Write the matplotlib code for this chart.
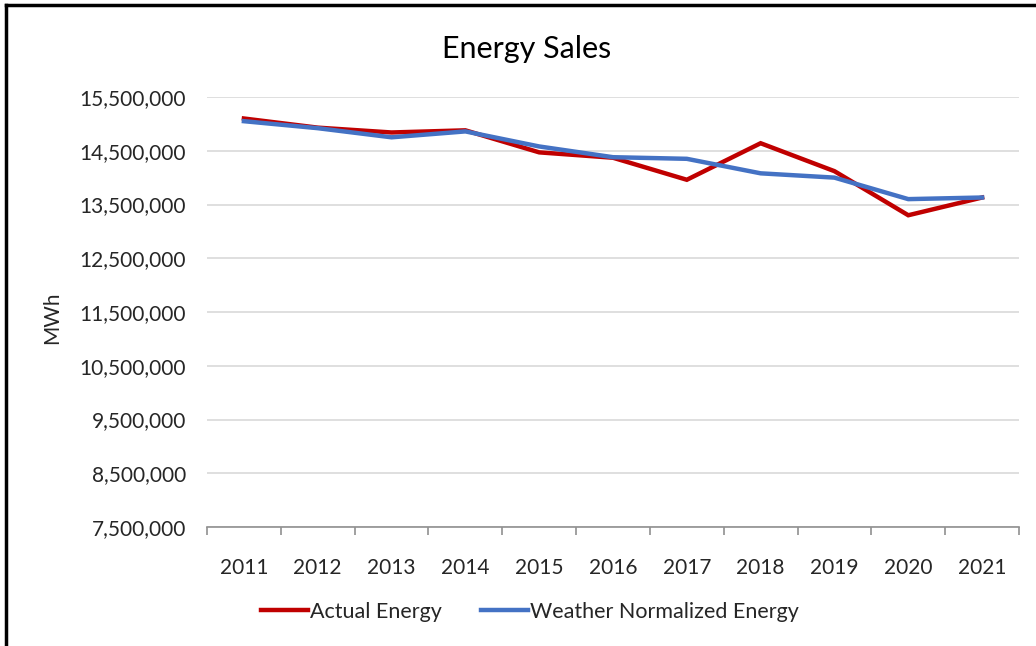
import matplotlib
matplotlib.use("Agg")
import matplotlib.pyplot as plt
from matplotlib.lines import Line2D
from matplotlib.ticker import FuncFormatter, FixedLocator

plt.rcParams['font.family'] = ['Lato', 'DejaVu Sans']

years = ['2011', '2012', '2013', '2014', '2015', '2016', '2017', '2018', '2019', '2020', '2021']
actual = [15100000, 14930000, 14840000, 14880000, 14470000, 14370000, 13960000, 14640000, 14120000, 13300000, 13630000]
normalized = [15050000, 14920000, 14750000, 14860000, 14580000, 14380000, 14350000, 14080000, 14000000, 13600000, 13630000]
yticks = [7500000, 8500000, 9500000, 10500000, 11500000, 12500000, 13500000, 14500000, 15500000]

fig = plt.figure(figsize=(10.36, 6.46), dpi=100)
ax = fig.add_axes([207/1036, 1-527/646, (1019-207)/1036, (527-97)/646])

x = list(range(len(years)))
ax.plot(x, actual, color='#C00000', lw=3.2, label='Actual Energy', solid_joinstyle='miter')
ax.plot(x, normalized, color='#4472C4', lw=3.2, label='Weather Normalized Energy', solid_joinstyle='miter')

ax.set_xlim(-0.5, len(years) - 0.5)
ax.set_ylim(yticks[0], yticks[-1])
ax.set_yticks(yticks)
ax.yaxis.set_major_formatter(FuncFormatter(lambda v, p: f"{int(v):,}"))
ax.grid(axis='y', color='#D9D9D9', lw=1.2)
ax.set_axisbelow(True)

ax.set_xticks(x)
ax.set_xticklabels(years)
ax.xaxis.set_minor_locator(FixedLocator([i - 0.5 for i in range(len(years) + 1)]))
ax.tick_params(axis='x', which='major', length=0, pad=22, labelsize=15, colors='#262626')
ax.tick_params(axis='x', which='minor', length=6, color='#909090', width=1.2)
ax.tick_params(axis='y', length=0, pad=15, labelsize=15, colors='#262626')

for s in ['top', 'right', 'left']:
    ax.spines[s].set_visible(False)
ax.spines['bottom'].set_color('#909090')
ax.spines['bottom'].set_linewidth(1.2)

fig.text(52/1036, 1-318/646, 'MWh', rotation=90, ha='center', va='center', fontsize=15, color='#262626')

fig.text(527/1036, 1-49/646, 'Energy Sales', ha='center', va='center', fontsize=22, color='#000000')

fig.legend(loc='center', bbox_to_anchor=(530/1036, 1-612/646), ncol=2, frameon=False,
           fontsize=15.5, handlelength=2.2, handletextpad=0.1, columnspacing=1.8,
           labelcolor='#262626')

fig.add_artist(Line2D([6/1036, 6/1036], [0, 1-5/646], color='black', lw=2.5, transform=fig.transFigure))
fig.add_artist(Line2D([6/1036, 1], [1-5/646, 1-5/646], color='black', lw=2.5, transform=fig.transFigure))

fig.savefig('out.png', dpi=100, facecolor='white')
